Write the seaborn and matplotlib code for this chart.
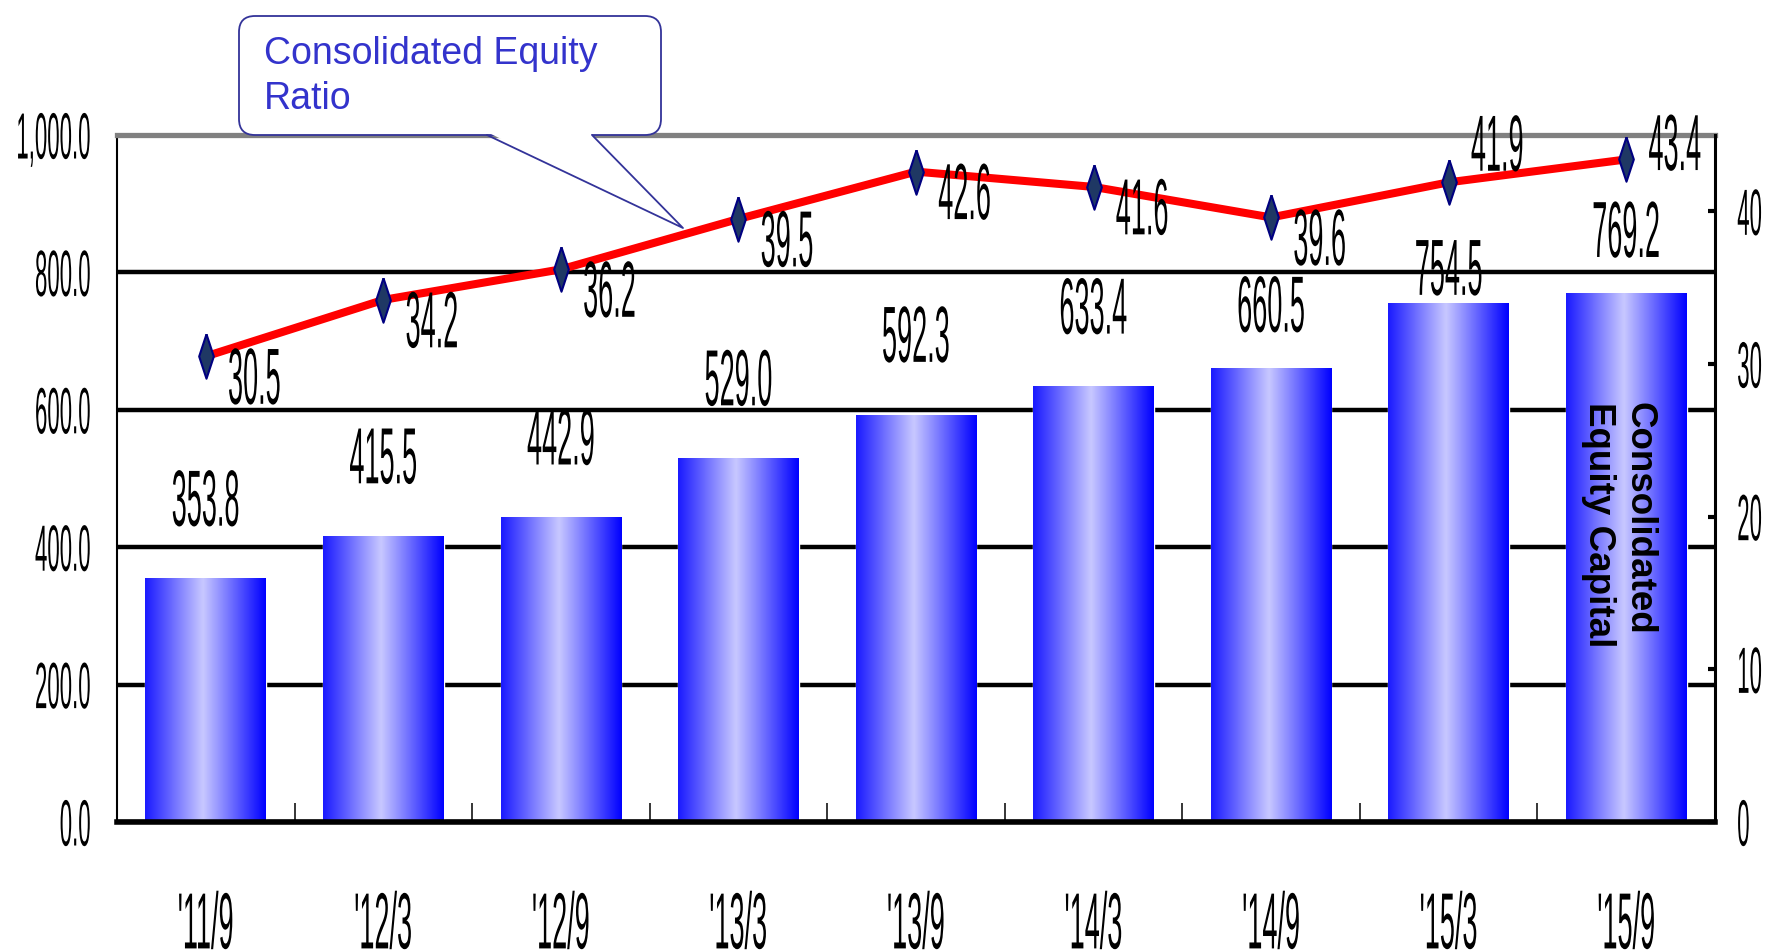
import numpy as np
import pandas as pd
import seaborn as sns
import matplotlib.pyplot as plt
from matplotlib import patheffects
from matplotlib.colors import LinearSegmentedColormap
from matplotlib.patches import FancyBboxPatch, Polygon
from matplotlib.lines import Line2D
from matplotlib.transforms import Affine2D, IdentityTransform

# data
periods = ["'11/9", "'12/3", "'12/9", "'13/3", "'13/9", "'14/3", "'14/9", "'15/3", "'15/9"]
equity_capital = [353.8, 415.5, 442.9, 529.0, 592.3, 633.4, 660.5, 754.5, 769.2]
equity_ratio = [30.5, 34.2, 36.2, 39.5, 42.6, 41.6, 39.6, 41.9, 43.4]
left_ticks = [0, 200, 400, 600, 800, 1000]
right_ticks = [0, 10, 20, 30, 40]

# label offsets (points), hand placed like in the original slide
bar_label_dy = [57, 57, 57, 57, 57, 57, 45, 25, 45]
ratio_label_dy = [-15.5, -15.5, -15.5, -15.5, -15.5, -15.5, -15.5, 27, 11]

W, H = 1769, 950
SY = 2.94  # the slide uses a very tall, narrow number font


class Tall(patheffects.AbstractPathEffect):
    """stretch the glyphs vertically around the middle of the digits"""

    def __init__(self, sy=SY):
        super().__init__()
        self.sy = sy

    def draw_path(self, renderer, gc, tpath, affine, rgbFace=None):
        # text paths use 100 units per em, digits are ~72 units high
        t = Affine2D().translate(0, -36).scale(1, self.sy).translate(0, 36) + affine
        renderer.draw_path(gc, tpath, t, rgbFace)


sns.set_theme(style='white')
plt.rcParams['font.family'] = ['Liberation Sans', 'DejaVu Sans']

df = pd.DataFrame({'period': periods, 'capital': equity_capital, 'ratio': equity_ratio})

fig = plt.figure(figsize=(W / 100, H / 100), dpi=100)
ax = fig.add_axes([117 / W, 1 - 822 / H, (1715 - 117) / W, (822 - 135) / H])

sns.barplot(data=df, x='period', y='capital', ax=ax, color='#0000ff',
            saturation=1, width=0.68, errorbar=None)

# gradient fill of the bars
cmap = LinearSegmentedColormap.from_list('bar', [(0, '#1a1aff'), (0.48, '#c8c8ff'), (1, '#0000ff')])
grad = np.linspace(0, 1, 256).reshape(1, -1)
for p in ax.patches:
    x0, w, h = p.get_x(), p.get_width(), p.get_height()
    ax.imshow(grad, cmap=cmap, extent=[x0, x0 + w, 0, h], aspect='auto',
              zorder=2, interpolation='bicubic')

ax.set_xlim(-0.5, len(periods) - 0.5)
ax.set_ylim(0, 1000)
ax.set_xlabel('')
ax.set_ylabel('')

ax.set_axisbelow(True)
ax.yaxis.grid(True, color='black', lw=3.2)
ax.xaxis.grid(False)
ax.get_ygridlines()[-1].set_visible(False)

for s in ['left', 'bottom', 'top']:
    ax.spines[s].set_visible(True)
ax.spines['right'].set_visible(False)
ax.spines['top'].set_color('#808080')
ax.spines['top'].set_linewidth(3.8)
ax.spines['left'].set_color('black')
ax.spines['left'].set_linewidth(1.5)
ax.spines['bottom'].set_color('black')
ax.spines['bottom'].set_linewidth(4)

ax.set_yticks(left_ticks, labels=[f'{v:,.1f}' for v in left_ticks])
ax.tick_params(axis='y', length=0, pad=19, labelsize=16, labelcolor='black')
ax.set_xticks(range(len(periods)), labels=periods)
ax.set_xticks(np.arange(0.5, len(periods) - 1), minor=True)
ax.tick_params(axis='x', which='major', length=0, pad=63, labelsize=19.5, labelcolor='black')
ax.tick_params(axis='x', which='minor', bottom=True, direction='in', length=14,
               width=1.1, color='black')
for t in ax.get_yticklabels() + ax.get_xticklabels():
    t.set_path_effects([Tall()])

# bar value labels
for i, v in enumerate(equity_capital):
    ax.annotate(f'{v:.1f}', (i, v), xytext=(0, bar_label_dy[i]), textcoords='offset points',
                ha='center', va='center', fontsize=19.5, color='black',
                path_effects=[Tall()])

ax.text(7.96, 611, 'Consolidated\nEquity Capital', rotation=-90, ha='center', va='top',
        fontsize=26.5, fontweight='bold', multialignment='left', linespacing=1.2,
        color='black', zorder=5)

# equity ratio line on the right axis
ax2 = ax.twinx()
diamond = [(0, 1), (0.33, 0), (0, -1), (-0.33, 0), (0, 1)]
sns.lineplot(x=np.arange(len(periods)), y=equity_ratio, ax=ax2, color='#ff0000', lw=5.8,
             marker=diamond, markersize=32, markerfacecolor='#1f3864',
             markeredgecolor='#000080', markeredgewidth=1.5)
ax2.set_xlim(-0.5, len(periods) - 0.5)
ax2.set_ylim(0, 45)
ax2.set_ylabel('')
ax2.grid(False)
for s in ['left', 'bottom', 'top']:
    ax2.spines[s].set_visible(False)
ax2.spines['right'].set_visible(True)
ax2.spines['right'].set_color('black')
ax2.spines['right'].set_linewidth(2.2)
ax2.set_yticks(right_ticks, labels=[str(v) for v in right_ticks])
ax2.tick_params(axis='y', right=True, direction='in', length=5, width=3, pad=16,
                labelsize=16, color='black', labelcolor='black')
for t in ax2.get_yticklabels():
    t.set_path_effects([Tall()])

for i, r in enumerate(equity_ratio):
    ax2.annotate(f'{r:.1f}', (i, r), xytext=(16, ratio_label_dy[i]), textcoords='offset points',
                 ha='left', va='center', fontsize=19.5, color='black', zorder=5,
                 path_effects=[Tall()])

# callout box
blue = '#333399'
box = FancyBboxPatch((239, H - 135), 661 - 239, 135 - 16, boxstyle='round,pad=0,rounding_size=16',
                     transform=IdentityTransform(), fc='white', ec=blue, lw=1.3, zorder=10)
fig.add_artist(box)
fig.add_artist(Polygon([(489, H - 133), (683, H - 228), (590, H - 133)], closed=True,
                       fc='white', ec='none', transform=IdentityTransform(), zorder=11))
fig.add_artist(Line2D([487, 683, 592], [H - 135, H - 228, H - 135], color=blue, lw=1.3,
                      transform=IdentityTransform(), zorder=12))
fig.text(264 / W, 1 - 36 / H, 'Consolidated Equity\nRatio', color='#3333cc', fontsize=27,
         ha='left', va='top', linespacing=1.32, zorder=13)

fig.savefig('out.png', dpi=100)
